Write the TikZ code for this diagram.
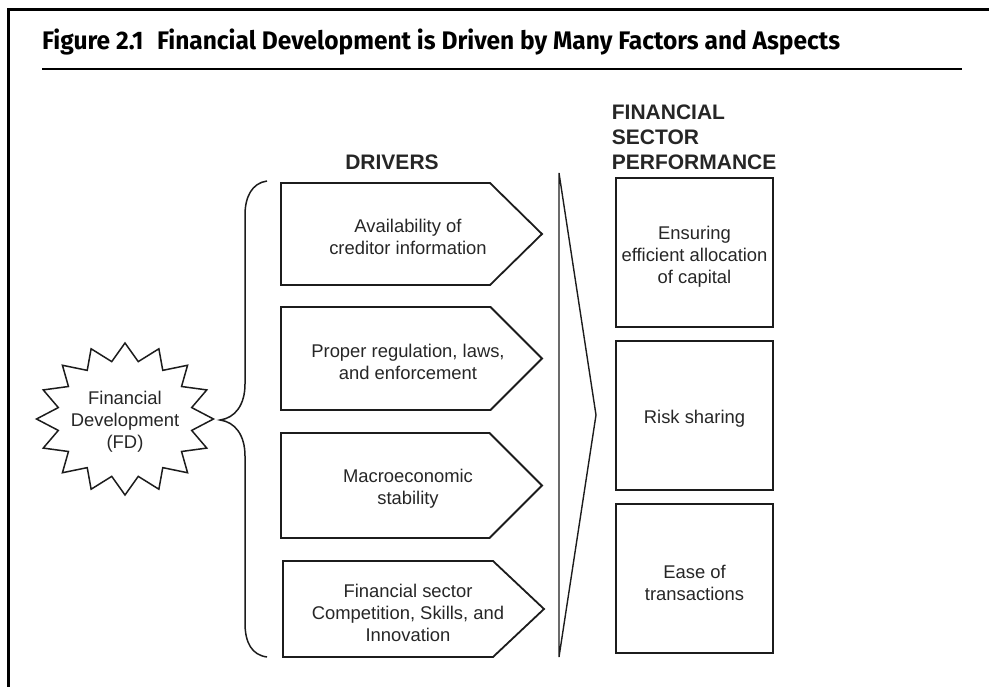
\documentclass[tikz,border=0pt]{standalone}
\usepackage{fontspec}
\setmainfont{Liberation Sans}
\newfontfamily\titlefont{Fira Sans}
\usepackage{graphicx}
\definecolor{ln}{HTML}{1C1C1C}
\definecolor{txt}{HTML}{262626}
\begin{document}
\begin{tikzpicture}[x=1pt,y=-1pt,line join=miter,
  body/.style={font=\fontsize{18.4}{22}\selectfont, text=txt, align=center, inner sep=0},
  head/.style={font=\fontsize{21}{25}\selectfont\bfseries, text=txt, inner sep=0},
  pent/.style={draw=ln, line width=1.8},
  pbox/.style={draw=ln, line width=2},
  thin/.style={draw=ln, line width=1.4},
]
\useasboundingbox (0,0) rectangle (989,687);
% frame
\draw[line width=3, black] (989,10) -- (8.5,10) -- (8.5,687);
% title
\node[anchor=base west, inner sep=0, text=black] (title) at (42,50)
  {\resizebox{798pt}{\height}{\titlefont\fontsize{25.4}{30}\selectfont\bfseries Figure 2.1\hspace{0.55em}Financial Development is Driven by Many Factors and Aspects}};
\coordinate (r1) at (42,69);
\coordinate (r2) at (962,69);
\draw[line width=1.3, black] (r1) -- (r2);
% headers
\node[head, anchor=base] (drv) at (392,170) {DRIVERS};
\node[head, anchor=north west, align=left] (fsp) at (611.7,105) {FINANCIAL\\SECTOR\\PERFORMANCE};
% star
\draw[thin, line width=1.5] (125,343)
  \foreach \i in {1,...,31}{ -- ({125+(mod(\i,2)==0 ? 88.5 : 68)*cos(90+\i*11.25)},{419-(mod(\i,2)==0 ? 76 : 58.5)*sin(90+\i*11.25)}) } -- cycle;
\node[body] (fd) at (125,422) {Financial\\Development\\(FD)};
% brace
\draw[thin, line width=1.5] (267,181) .. controls (252,183) and (245,197) .. (245,215) -- (245,384)
  .. controls (245,405) and (235,418) .. (220,420)
  .. controls (235,422) and (245,435) .. (245,456) -- (245,623)
  .. controls (245,643) and (252,655) .. (267,657);
% pentagons
\draw[pent] (281,183) -- (490,183) -- (542,234) -- (490,285) -- (281,285) -- cycle;
\draw[pent] (281,307) -- (490.5,307) -- (542,358.5) -- (490.5,410) -- (281,410) -- cycle;
\draw[pent] (281,433) -- (489.5,433) -- (542,485.5) -- (489.5,538) -- (281,538) -- cycle;
\draw[pent] (283,561) -- (493,561) -- (544,609) -- (493,657) -- (283,657) -- cycle;
\node[body] (d1) at (408,237) {Availability of\\creditor information};
\node[body] (d2) at (408,362) {Proper regulation, laws,\\and enforcement};
\node[body] (d3) at (408,489) {Macroeconomic\\stability};
\node[body] (d4) at (408,613) {Financial sector\\Competition, Skills, and\\Innovation};
% big triangle
\draw[thin] (559,173) -- (596,415) -- (559,657) -- cycle;
% boxes
\draw[pbox] (616,178) rectangle (773,327);
\draw[pbox] (616,341) rectangle (773,490);
\draw[pbox] (616,504) rectangle (773,653);
\node[body] (p1) at (694.5,257) {Ensuring\\efficient allocation\\of capital};
\node[body] (p2) at (694.5,419) {Risk sharing};
\node[body] (p3) at (694.5,582.5) {Ease of\\transactions};
\end{tikzpicture}
\end{document}
